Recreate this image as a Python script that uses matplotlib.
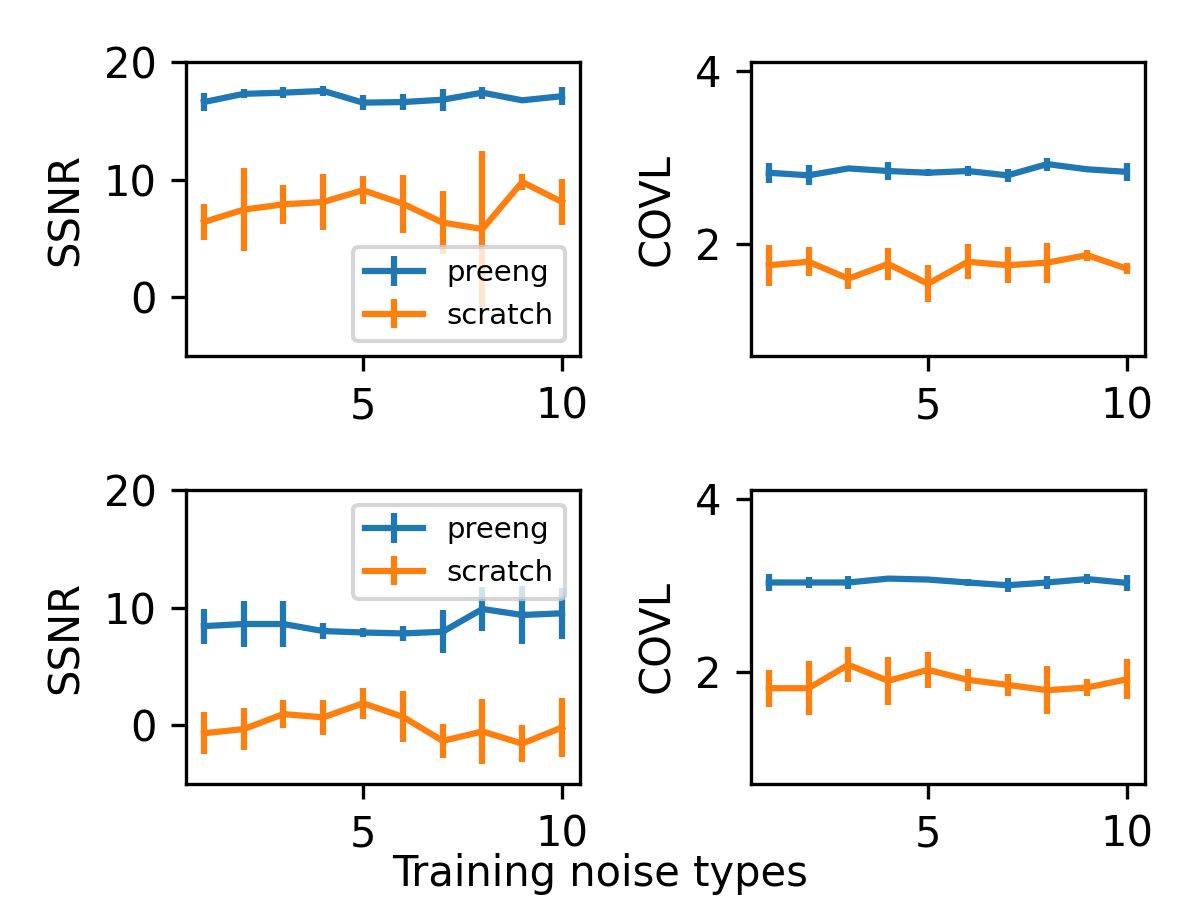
import numpy as np
import matplotlib
matplotlib.use("Agg")
import matplotlib.pyplot as plt

x = np.arange(1, 11)
labels = ['preeng', 'scratch']

# oben: SSNR / COVL
ssnr_top_pre = [16.6, 17.3, 17.4, 17.55, 16.55, 16.6, 16.8, 17.4, 16.75, 17.1]
ssnr_top_pre_err = [0.74, 0.38, 0.44, 0.4, 0.62, 0.7, 0.95, 0.52, 0.1, 0.75]
ssnr_top_scr = [6.4, 7.45, 7.9, 8.1, 9.1, 7.95, 6.35, 5.8, 9.8, 8.1]
ssnr_top_scr_err = [1.52, 3.56, 1.66, 2.38, 1.19, 2.45, 2.65, 6.65, 0.68, 1.93]

covl_top_pre = [2.82, 2.79, 2.87, 2.84, 2.82, 2.84, 2.79, 2.92, 2.86, 2.83]
covl_top_pre_err = [0.117, 0.117, 0.03, 0.107, 0.04, 0.06, 0.077, 0.075, 0.03, 0.107]
covl_top_scr = [1.75, 1.79, 1.595, 1.765, 1.535, 1.79, 1.75, 1.78, 1.867, 1.71]
covl_top_scr_err = [0.236, 0.166, 0.123, 0.19, 0.213, 0.2, 0.21, 0.23, 0.064, 0.066]

# unten: SSNR / COVL
ssnr_bot_pre = [8.42, 8.6, 8.6, 8.0, 7.88, 7.8, 7.94, 9.88, 9.37, 9.51]
ssnr_bot_pre_err = [1.49, 1.96, 1.96, 0.67, 0.39, 0.63, 1.83, 1.91, 2.43, 2.17]
ssnr_bot_scr = [-0.69, -0.34, 0.94, 0.66, 1.86, 0.71, -1.34, -0.54, -1.57, -0.2]
ssnr_bot_scr_err = [1.8, 1.79, 1.19, 1.5, 1.31, 2.17, 1.43, 2.76, 1.54, 2.47]

covl_bot_pre = [3.03, 3.03, 3.03, 3.075, 3.064, 3.03, 2.998, 3.03, 3.07, 3.025]
covl_bot_pre_err = [0.1, 0.058, 0.077, 0.02, 0.01, 0.04, 0.08, 0.077, 0.058, 0.095]
covl_bot_scr = [1.807, 1.807, 2.078, 1.892, 2.02, 1.904, 1.846, 1.784, 1.815, 1.91]
covl_bot_scr_err = [0.215, 0.313, 0.2, 0.28, 0.21, 0.128, 0.13, 0.28, 0.095, 0.232]

fig, axes = plt.subplots(2, 2, figsize=(4, 3), dpi=300)
plt.subplots_adjust(left=0.155, right=0.954, top=0.931, bottom=0.129,
                    wspace=0.434, hspace=0.456)

panels = [
    (axes[0, 0], ssnr_top_pre, ssnr_top_pre_err, ssnr_top_scr, ssnr_top_scr_err, 'SSNR', 'lower right'),
    (axes[0, 1], covl_top_pre, covl_top_pre_err, covl_top_scr, covl_top_scr_err, 'COVL', None),
    (axes[1, 0], ssnr_bot_pre, ssnr_bot_pre_err, ssnr_bot_scr, ssnr_bot_scr_err, 'SSNR', 'upper right'),
    (axes[1, 1], covl_bot_pre, covl_bot_pre_err, covl_bot_scr, covl_bot_scr_err, 'COVL', None),
]

for ax, pre, pre_err, scr, scr_err, ylab, loc in panels:
    ax.errorbar(x, pre, yerr=pre_err, label=labels[0])
    ax.errorbar(x, scr, yerr=scr_err, label=labels[1])
    ax.set_ylabel(ylab)
    ax.set_xticks([5, 10])
    if ylab == 'SSNR':
        ax.set_ylim(-5, 20)
        ax.set_yticks([0, 10, 20])
    else:
        ax.set_ylim(0.7, 4.1)
        ax.set_yticks([2, 4])
    if loc:
        ax.legend(loc=loc, fontsize=7)

fig.text(0.5, 0.029, 'Training noise types', ha='center', va='center')
plt.savefig('out.png', dpi=300)
